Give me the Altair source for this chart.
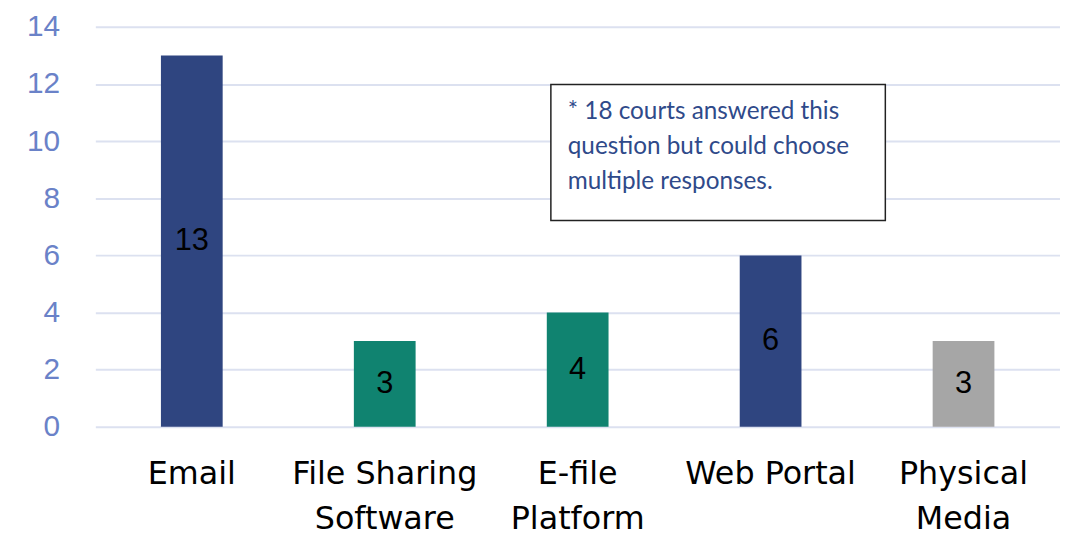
import altair as alt
import pandas as pd

categories = ["Email", "File Sharing\nSoftware", "E-file\nPlatform", "Web Portal", "Physical\nMedia"]
values = [13, 3, 4, 6, 3]
colors = ["#2F4580", "#108370", "#108370", "#2F4580", "#A6A6A6"]
note_lines = ["* 18 courts answered this", "question but could choose", "multiple responses."]

df = pd.DataFrame({"cat": categories, "val": values, "color": colors})
df["mid"] = df["val"] / 2

W, H = 972, 403

xenc = alt.X("cat:N", sort=categories, title=None,
             scale=alt.Scale(paddingInner=0.68, paddingOuter=0.34),
             axis=alt.Axis(labelAngle=0, labelExpr="split(datum.label, '\\n')",
                           labelFont="DejaVu Sans, sans-serif", labelLimit=0,
                           labelFontSize=32, labelColor="#000000", labelLineHeight=45,
                           labelPadding=32, domain=False, ticks=False))
yenc = alt.Y("val:Q", title=None,
             scale=alt.Scale(domain=[0, 14], nice=False),
             axis=alt.Axis(values=[0, 2, 4, 6, 8, 10, 12, 14], labelFontSize=30,
                           labelColor="#6A82C8", labelFont="Liberation Sans, Arial, sans-serif",
                           labelPadding=36, domain=False, ticks=False, labelLimit=0,
                           grid=True, gridColor="#DCE1F0", gridWidth=2))

bars = alt.Chart(df).mark_bar().encode(
    x=xenc, y=yenc, color=alt.Color("color:N", scale=None)
)

labels = alt.Chart(df).mark_text(fontSize=31, color="#000000",
                                 font="Liberation Sans, Arial, sans-serif",
                                 baseline="middle").encode(
    x=alt.X("cat:N", sort=categories), y=alt.Y("mid:Q"), text=alt.Text("val:Q")
)

box = alt.Chart(pd.DataFrame({"a": [0]})).mark_rect(
    fill="white", stroke="#222222", strokeWidth=1.5
).encode(x=alt.value(459), x2=alt.value(796), y=alt.value(58), y2=alt.value(195))

note = alt.Chart(pd.DataFrame({"a": [0]})).mark_text(
    text=note_lines, align="left", baseline="alphabetic", fontSize=24.5,
    lineHeight=35, font="Lato, Open Sans, sans-serif", color="#2F4A8A"
).encode(x=alt.value(476), y=alt.value(93))

chart = alt.layer(bars, labels, box, note).properties(
    width=W, height=H,
    autosize=alt.AutoSizeParams(type="none"),
    padding={"left": 88, "top": 17, "right": 0, "bottom": 107}
).configure_view(stroke=None)

chart.save("out.html", embed_options={"renderer": "svg", "actions": False})
